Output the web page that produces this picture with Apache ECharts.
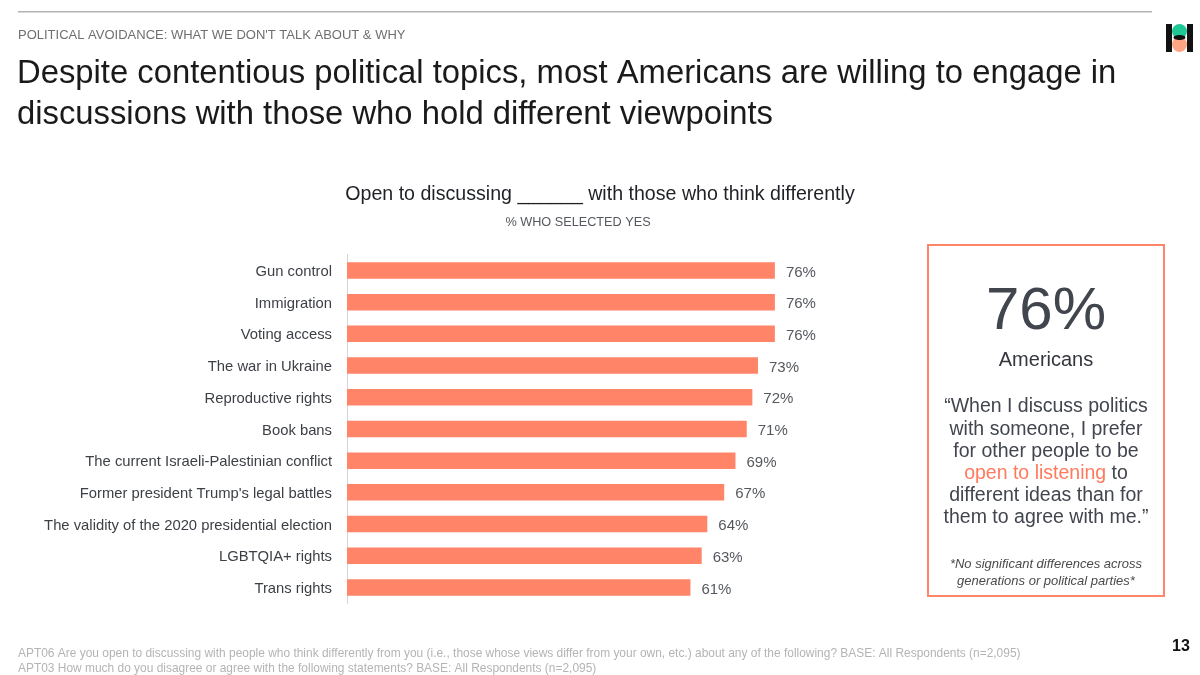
<!DOCTYPE html>
<html><head><meta charset="utf-8">
<style>html,body{margin:0;padding:0;background:#fff}#c{width:1200px;height:675px}</style>
<script src="https://cdn.jsdelivr.net/npm/echarts@6/dist/echarts.min.js"></script>
</head><body><div id="c"></div>
<script>
const categories = ["Gun control","Immigration","Voting access","The war in Ukraine","Reproductive rights","Book bans","The current Israeli-Palestinian conflict","Former president Trump's legal battles","The validity of the 2020 presidential election","LGBTQIA+ rights","Trans rights"];
const values = [76,76,76,73,72,71,69,67,64,63,61];
const eyebrow = "POLITICAL AVOIDANCE: WHAT WE DON'T TALK ABOUT & WHY";
const titleLines = ["Despite contentious political topics, most Americans are willing to engage in","discussions with those who hold different viewpoints"];
const chartTitle = "Open to discussing ______ with those who think differently";
const chartSub = "% WHO SELECTED YES";
const quote = ["“When I discuss politics","with someone, I prefer","for other people to be","{o|open to listening} to","different ideas than for","them to agree with me.”"];
const noteLines = ["*No significant differences across","generations or political parties*"];
const foot = ["APT06 Are you open to discussing with people who think differently from you (i.e., those whose views differ from your own, etc.) about any of the following? BASE: All Respondents (n=2,095)","APT03 How much do you disagree or agree with the following statements? BASE: All Respondents (n=2,095)"];
const F = '"Liberation Sans", Arial, sans-serif';
const CORAL = '#ff8468', DARK = '#41454d';
function t(x,y,text,size,fill,align,extra){
  return {type:'text',x,y,silent:true,style:Object.assign({text,font:`${size}px ${F}`,fontSize:size,fontFamily:F,fill,align:align||'left',verticalAlign:'middle'},extra||{})};
}
const graphic = [
  {type:'rect',shape:{x:18,y:11,width:1134,height:1.5},style:{fill:'#b3b3b3'},silent:true},
  t(18,35.5,eyebrow,13,'#6f6f6f'),
  t(17,74,titleLines[0],32.8,'#1a1a1a'),
  t(17,115,titleLines[1],32.8,'#1a1a1a'),
  t(600,194.5,chartTitle,19.6,'#1f2126','center'),
  t(578,222,chartSub,12.7,'#55585e','center'),
  {type:'rect',shape:{x:928,y:245,width:236,height:351},style:{fill:'#fff',stroke:CORAL,lineWidth:2},silent:true},
  t(1046,312,'76%',60,DARK,'center'),
  t(1046,360,'Americans',20,'#33363c','center'),
  ...quote.map((q,i)=>({type:'text',x:1046,y:407+i*22.2,silent:true,style:{text:q,fontSize:19.5,fontFamily:F,fill:DARK,align:'center',verticalAlign:'middle',rich:{o:{fontSize:19.5,fontFamily:F,fill:'#ff7a5c'}}}})),
  ...noteLines.map((n,i)=>t(1046,564.5+i*17,n,13,'#4a4a4a','center',{fontStyle:'italic',font:`italic 13px ${F}`})),
  t(18,654,foot[0],11.95,'#b4b4b4'),
  t(18,669,foot[1],11.95,'#b4b4b4'),
  t(1181,647,'13',16,'#111','center',{fontWeight:'bold',font:`bold 16px ${F}`}),
  {type:'circle',shape:{cx:1179.5,cy:31.5,r:7.5},style:{fill:'#1fc796'},silent:true},
  {type:'circle',shape:{cx:1179.5,cy:44.5,r:7.5},style:{fill:'#ffa585'},silent:true},
  {type:'ellipse',shape:{cx:1179.5,cy:37.5,rx:6,ry:2.5},style:{fill:'#111'},silent:true},
  {type:'rect',shape:{x:1166,y:24,width:6,height:28},style:{fill:'#111'},silent:true},
  {type:'rect',shape:{x:1187,y:24,width:6,height:28},style:{fill:'#111'},silent:true}
];
const chart = echarts.init(document.getElementById('c'),null,{renderer:'canvas'});
chart.setOption({
  animation:false,backgroundColor:'#fff',
  grid:{left:347,top:254.6,width:563,height:348.7,containLabel:false},
  xAxis:{type:'value',min:0,max:100,show:false},
  yAxis:{type:'category',inverse:true,data:categories,
    axisLine:{show:true,lineStyle:{color:'#d4d4d4',width:1}},axisTick:{show:false},
    axisLabel:{margin:15,formatter:'{a|{value}}',rich:{a:{color:'#3c3f45',fontSize:14.8,fontFamily:F,padding:[3,0,0,0]}}}},
  series:[{type:'bar',data:values,barWidth:16.5,itemStyle:{color:CORAL},
    label:{show:true,position:'right',distance:11,offset:[0,2],formatter:'{c}%',color:'#55585e',fontSize:15,fontFamily:F}}],
  graphic:{elements:graphic}
});
</script></body></html>
